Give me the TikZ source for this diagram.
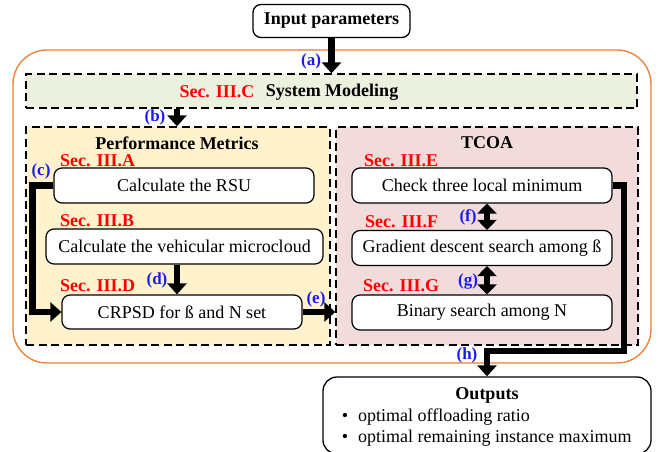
\documentclass[tikz,border=0pt]{standalone}
\usepackage{fontspec}
\setmainfont{Liberation Serif}
\usetikzlibrary{arrows.meta,calc}
\definecolor{sysgreen}{HTML}{EBF1DE}
\definecolor{perfyel}{HTML}{FFF2CC}
\definecolor{tcoapink}{HTML}{F2DCDB}
\definecolor{borderorange}{HTML}{ED7D31}
\definecolor{secred}{HTML}{FF0000}
\definecolor{labblue}{HTML}{1A1AF5}
\tikzset{
  txt/.style={font=\fontsize{18}{20}\selectfont},
  boldtxt/.style={font=\fontsize{18}{20}\selectfont\bfseries},
  seclab/.style={font=\fontsize{18}{20}\selectfont\bfseries, text=secred, inner sep=0pt, anchor=west},
  arrlab/.style={font=\fontsize{17}{19}\selectfont\bfseries, text=labblue, inner sep=0pt},
  stepbox/.style={draw, line width=1.2pt, rounded corners=8pt, fill=white, font=\fontsize{18}{20}\selectfont, inner sep=0pt},
  dashbox/.style={draw, line width=1.3pt, dash pattern=on 8pt off 4.5pt, inner sep=0pt},
  fat/.style={line width=6.5pt, line join=miter, -{Triangle[width=19pt,length=11pt]}},
  fatboth/.style={line width=6pt, {Triangle[width=19pt,length=10pt]}-{Triangle[width=19pt,length=10pt]}},
}
\begin{document}
\begin{tikzpicture}[x=1pt,y=-1pt]
\useasboundingbox (0,0) rectangle (661,452);
% orange frame
\node[draw=borderorange, line width=1.3pt, rounded corners=34pt, minimum width=638pt, minimum height=313pt, inner sep=0pt] (frame) at (332,206.5) {};
% input
\node[stepbox, line width=1.3pt, minimum width=157pt, minimum height=33pt, font=\fontsize{18}{20}\selectfont\bfseries] (input) at (331.5,21) {Input parameters};
% system modeling
\node[dashbox, fill=sysgreen, minimum width=611pt, minimum height=34pt] (sysmod) at (331.5,91) {};
\node[seclab, anchor=center] (secC) at (217,92) {Sec. III.C};
\node[boldtxt, inner sep=0pt] (sysmodt) at (332,92) {System Modeling};
% panels
\node[dashbox, fill=perfyel, minimum width=304pt, minimum height=218pt] (perf) at (178,236) {};
\node[dashbox, fill=tcoapink, minimum width=302pt, minimum height=218pt] (tcoa) at (487,236) {};
\node[boldtxt, inner sep=0pt] (perft) at (177,143) {Performance Metrics};
\node[boldtxt, inner sep=0pt] (tcoat) at (487,143) {TCOA};
% left boxes
\node[seclab] (secA) at (60,161) {Sec. III.A};
\node[stepbox, minimum width=260pt, minimum height=35pt] (rsu) at (184,185.5) {Calculate the RSU};
\node[seclab] (secB) at (60,221) {Sec. III.B};
\node[stepbox, minimum width=277pt, minimum height=35pt] (micro) at (184.5,246.5) {Calculate the vehicular microcloud};
\node[seclab] (secD) at (60,286) {Sec. III.D};
\node[stepbox, minimum width=240pt, minimum height=34pt] (crpsd) at (182,312) {CRPSD for ß and N set};
% right boxes
\node[seclab] (secE) at (364,161) {Sec. III.E};
\node[stepbox, minimum width=260pt, minimum height=35pt] (check) at (482,185.5) {Check three local minimum};
\node[seclab] (secF) at (365,222) {Sec. III.F};
\node[stepbox, minimum width=260pt, minimum height=35pt] (grad) at (482,248) {Gradient descent search among ß};
\node[seclab] (secG) at (363,286) {Sec. III.G};
\node[stepbox, minimum width=260pt, minimum height=35pt] (binary) at (482,312.5) {Binary search among N};
% outputs
\node[draw, line width=1.3pt, rounded corners=14pt, minimum width=328pt, minimum height=77pt, inner sep=0pt] (outputs) at (487,415.5) {};
\node[boldtxt, inner sep=0pt] (outt) at (487,395) {Outputs};
\node[txt, inner sep=0pt] (b1) at (345,417) {\textbullet};
\node[txt, inner sep=0pt, anchor=west] (o1) at (358,417) {optimal offloading ratio};
\node[txt, inner sep=0pt] (b2) at (345,438) {\textbullet};
\node[txt, inner sep=0pt, anchor=west] (o2) at (358,438) {optimal remaining instance maximum};
% connectors
\coordinate (dx) at (177,0);
\coordinate (fx) at (487,0);
\coordinate (hc) at (624,351);
\draw[fat] (input.south) -- (input.south |- sysmod.north);
\draw[fat] (sysmod.south -| dx) -- (perf.north -| dx);
\draw[fat] (rsu.west) -- ++(-21,0) |- (crpsd.west);
\draw[fat] (micro.south -| dx) -- (crpsd.north -| dx);
\draw[fat] (crpsd.east) -- (tcoa.west |- crpsd.east);
\draw[fatboth] (check.south -| fx) -- (grad.north -| fx);
\draw[fatboth] (grad.south -| fx) -- (binary.north -| fx);
\draw[fat] (check.east) -| (hc) -| (outputs.north);
% arrow labels
\node[arrlab] (la) at (311,61) {(a)};
\node[arrlab] (lb) at (155,117) {(b)};
\node[arrlab] (lc) at (41,171) {(c)};
\node[arrlab] (ld) at (157,280) {(d)};
\node[arrlab] (le) at (316,299) {(e)};
\node[arrlab] (lf) at (468,217) {(f)};
\node[arrlab] (lg) at (468,281) {(g)};
\node[arrlab] (lh) at (467,355) {(h)};
\end{tikzpicture}
\end{document}
